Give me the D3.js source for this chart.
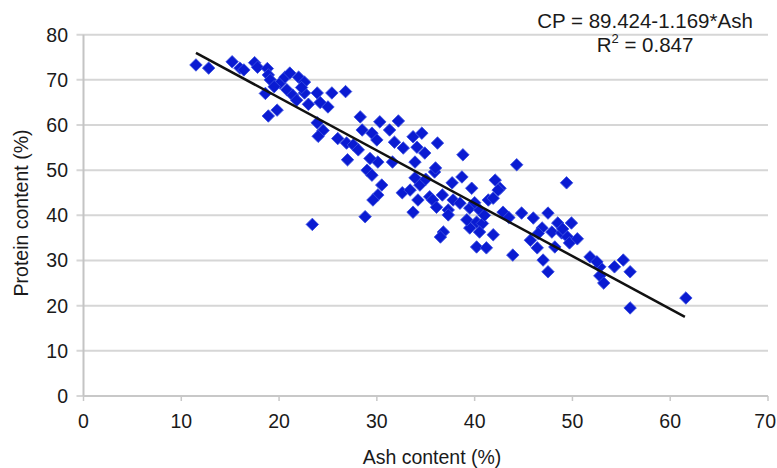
<!DOCTYPE html>
<html>
<head>
<meta charset="UTF-8">
<title>Protein vs Ash content</title>
<style>
    body {
        margin: 0;
        padding: 0;
        background: #fff;
    }
    svg text {
        font-family: 'Liberation Sans', Arial, sans-serif;
        fill: #1a1a1a;
    }
    .grid line {
        stroke: #d6d6d6;
        stroke-width: 2px;
    }
    .pt {
        fill: #0a1bd2;
        stroke: #3a4fe0;
        stroke-width: 0.8px;
    }
</style>
</head>
<body>

<svg></svg>

<script src="https://d3js.org/d3.v7.min.js"></script>
<script>

// dimensions
let w = 777, h = 468;

// data
let ash = [
    11.5, 12.8, 15.2, 16.0, 16.4, 17.5, 17.8, 18.8, 18.9, 19.1, 18.6, 18.9, 19.8, 20.1, 19.5,
    20.6, 21.1, 20.8, 21.4, 22.0, 22.6, 22.6, 23.0, 23.9, 24.2, 25.0, 25.4, 26.8, 23.9, 24.5,
    24.0, 26.0, 26.9, 27.0, 23.4, 21.8, 22.3,
    28.3, 30.3, 32.2, 28.5, 29.5, 31.3, 30.0, 27.6, 28.1, 31.8, 32.7, 30.1, 31.6, 29.0, 29.5,
    30.5, 30.1, 29.6, 32.6, 28.8, 29.3,
    33.7, 34.6, 34.1, 34.9, 36.2, 38.8, 33.9, 35.9, 33.9, 34.4, 33.4, 34.2, 35.4, 35.7, 36.7,
    37.7, 38.7, 39.7, 37.8, 38.5, 33.7, 36.1, 37.3, 39.5, 36.8, 36.5, 39.5, 39.2, 37.3, 36.0, 35.0,
    40.5, 42.1, 42.6, 41.4, 42.9, 40.2, 40.8, 41.9, 40.5, 40.2, 41.2, 41.9, 44.3, 44.8, 43.9,
    42.4, 41.0, 43.5, 40.0,
    46.0, 47.5, 48.5, 49.9, 46.9, 47.9, 48.9, 49.5, 49.7, 45.7, 46.4, 47.0, 47.5, 49.4, 51.8,
    52.8, 54.3, 55.2, 55.9, 52.5, 52.8, 53.2, 55.9, 61.6, 48.2, 46.5, 49.0, 50.5
];
let protein = [
    73.3, 72.6, 74.0, 72.6, 72.2, 73.8, 72.8, 72.5, 71.1, 70.0, 67.0, 62.0, 63.3, 69.3, 68.5,
    70.6, 71.5, 67.8, 66.6, 70.6, 69.5, 67.1, 64.6, 67.1, 65.0, 64.0, 67.1, 67.4, 60.5, 58.8,
    57.5, 57.0, 56.0, 52.3, 38.0, 65.5, 68.3,
    61.8, 60.7, 60.9, 58.9, 58.2, 58.9, 56.7, 55.6, 54.5, 56.2, 54.9, 51.8, 51.8, 50.0, 48.9,
    46.7, 44.5, 43.4, 45.0, 39.7, 52.6,
    57.4, 58.2, 55.1, 53.8, 56.0, 53.4, 51.8, 49.6, 48.3, 46.7, 45.6, 43.4, 44.1, 43.4, 44.5,
    47.2, 48.5, 46.0, 43.4, 42.7, 40.7, 41.8, 41.2, 41.6, 36.3, 35.2, 37.2, 39.0, 40.1, 50.5, 48.0,
    41.2, 47.8, 46.0, 43.4, 40.7, 38.5, 38.2, 35.7, 36.3, 33.0, 32.8, 43.8, 51.2, 40.5, 31.2,
    45.6, 40.0, 39.5, 42.8,
    39.4, 40.5, 38.3, 38.3, 37.2, 36.3, 36.1, 35.2, 33.9, 34.5, 32.8, 30.1, 27.5, 47.2, 30.8,
    28.6, 28.6, 30.1, 27.5, 29.7, 26.6, 25.0, 19.5, 21.7, 33.0, 36.0, 37.0, 34.8
];

// regression line CP = 89.424 - 1.169*Ash
let fitIntercept = 89.424, fitSlope = -1.169;
let fitRange = [11.5, 61.5];

// ticks and labels
let xTicks = [0, 10, 20, 30, 40, 50, 60, 70];
let yTicks = [0, 10, 20, 30, 40, 50, 60, 70, 80];
let xTitle = "Ash content (%)";
let yTitle = "Protein content (%)";
let eqText = "CP = 89.424-1.169*Ash";
let r2Value = "0.847";

let svg = d3.select("svg")
    .attr("width", w)
    .attr("height", h);

// scales
let x = d3.scaleLinear().domain([0, 70]).range([83.5, 768]);
let y = d3.scaleLinear().domain([0, 80]).range([396, 34.7]);

// horizontal gridlines (they stick out a bit left of the axis, like ticks)
svg.append("g")
    .attr("class", "grid")
    .selectAll("line")
    .data(yTicks)
    .enter()
    .append("line")
    .attr("x1", x(0) - 7)
    .attr("x2", x(70))
    .attr("y1", d => y(d))
    .attr("y2", d => y(d));

// y axis line
svg.append("line")
    .attr("x1", x(0)).attr("x2", x(0))
    .attr("y1", y(80)).attr("y2", y(0))
    .attr("stroke", "#c4c4c4")
    .attr("stroke-width", 2);

// x axis line + small ticks
svg.append("line")
    .attr("x1", x(0)).attr("x2", x(70))
    .attr("y1", y(0)).attr("y2", y(0))
    .attr("stroke", "#c8c8c8")
    .attr("stroke-width", 2);

svg.append("g")
    .selectAll("line")
    .data(xTicks)
    .enter()
    .append("line")
    .attr("x1", d => x(d)).attr("x2", d => x(d))
    .attr("y1", y(0)).attr("y2", y(0) + 5)
    .attr("stroke", "#c8c8c8")
    .attr("stroke-width", 1.5);

// tick labels
svg.append("g")
    .selectAll("text")
    .data(yTicks)
    .enter()
    .append("text")
    .attr("x", 68)
    .attr("y", d => y(d))
    .attr("dy", "0.35em")
    .attr("text-anchor", "end")
    .style("font-size", "19.5px")
    .text(d => d);

// last x label sits against the right edge, so anchor it at its end
svg.append("g")
    .selectAll("text")
    .data(xTicks)
    .enter()
    .append("text")
    .attr("x", d => d === 70 ? w - 1 : x(d))
    .attr("y", 428)
    .attr("text-anchor", d => d === 70 ? "end" : "middle")
    .style("font-size", "19.5px")
    .text(d => d);

// axis titles
svg.append("text")
    .attr("x", 432)
    .attr("y", 464)
    .attr("text-anchor", "middle")
    .style("font-size", "19.5px")
    .text(xTitle);

svg.append("text")
    .attr("transform", "translate(28,213) rotate(-90)")
    .attr("text-anchor", "middle")
    .style("font-size", "19.5px")
    .text(yTitle);

// points
let pts = ash.map((a, i) => ({ash: a, cp: protein[i]}));
let diamond = d3.symbol().type(d3.symbolSquare).size(78);

svg.append("g")
    .selectAll("path")
    .data(pts)
    .enter()
    .append("path")
    .attr("class", "pt")
    .attr("d", diamond)
    .attr("transform", d => `translate(${x(d.ash)},${y(d.cp)}) rotate(45)`);

// fitted line
svg.append("path")
    .datum(fitRange)
    .attr("fill", "none")
    .attr("stroke", "#111")
    .attr("stroke-width", 2.5)
    .attr("d", d3.line()
        .x(d => x(d))
        .y(d => y(fitIntercept + fitSlope * d)));

// equation label
svg.append("text")
    .attr("x", 645)
    .attr("y", 28)
    .attr("text-anchor", "middle")
    .style("font-size", "20.5px")
    .text(eqText);

let r2 = svg.append("text")
    .attr("x", 645)
    .attr("y", 52)
    .attr("text-anchor", "middle")
    .style("font-size", "20.5px");
r2.append("tspan").text("R");
r2.append("tspan").attr("dy", -9).style("font-size", "13px").text("2");
r2.append("tspan").attr("dy", 9).text(" = " + r2Value);

</script>
</body>
</html>
